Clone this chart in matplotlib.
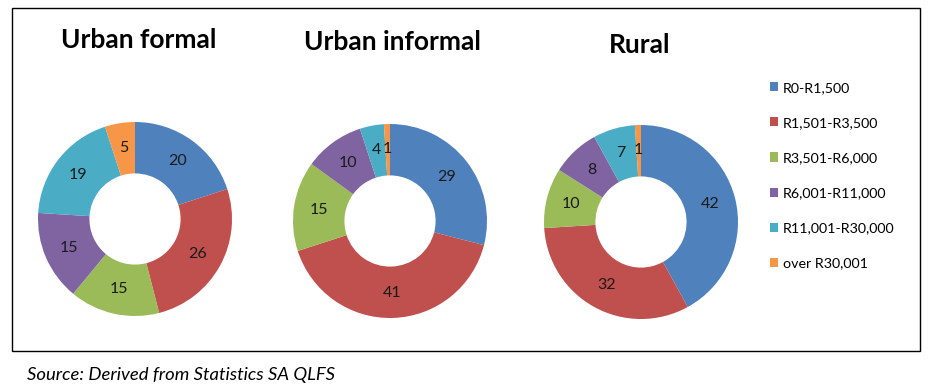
import matplotlib
matplotlib.use('Agg')
import matplotlib.pyplot as plt
from matplotlib.patches import Patch, Rectangle

plt.rcParams['font.family'] = ['Lato', 'DejaVu Sans']

# income bands (legend order) and shares in percent
categories = ['R0-R1,500', 'R1,501-R3,500', 'R3,501-R6,000',
              'R6,001-R11,000', 'R11,001-R30,000', 'over R30,001']
colors = ['#4F81BD', '#C0504D', '#9BBB59', '#8064A2', '#4BACC6', '#F79646']

titles = ['Urban formal', 'Urban informal', 'Rural']
urban_formal = [20, 26, 15, 15, 19, 5]
urban_informal = [29, 41, 15, 10, 4, 1]
rural = [42, 32, 10, 8, 7, 1]
series = [urban_formal, urban_informal, rural]

W, H = 931, 391
fig = plt.figure(figsize=(W / 100, H / 100), dpi=100)

# outer frame
fig.patches.append(Rectangle((12 / W, 1 - 351 / H), 908 / W, 343 / H,
                             transform=fig.transFigure, fill=False,
                             edgecolor='black', linewidth=1))

# donut centres (px) and title positions
centres = [(135, 219), (390, 221), (641, 222)]
title_pos = [(139, 40), (392, 42), (640, 45)]
r = 97

for vals, title, (cx, cy), (tx, ty) in zip(series, titles, centres, title_pos):
    ax = fig.add_axes([(cx - r) / W, (H - cy - r) / H, 2 * r / W, 2 * r / H])
    wedges, texts = ax.pie(vals, labels=[str(v) for v in vals], colors=colors,
                           startangle=90, counterclock=False, radius=1,
                           labeldistance=0.74,
                           wedgeprops=dict(width=0.53, linewidth=0),
                           textprops=dict(fontsize=11.5, color='#1a1a1a',
                                          ha='center', va='center'))
    ax.set_xlim(-1, 1)
    ax.set_ylim(-1, 1)
    ax.set_aspect('equal')
    ax.axis('off')
    fig.text(tx / W, 1 - ty / H, title, fontsize=19, fontweight='bold',
             ha='center', va='center')

handles = [Patch(facecolor=c, edgecolor='none') for c in colors]
fig.legend(handles, categories, loc='upper left',
           bbox_to_anchor=(764 / W, 1 - 76 / H), frameon=False,
           fontsize=10.3, handlelength=0.6, handleheight=0.6,
           handletextpad=0.3, labelspacing=1.62, borderaxespad=0)

fig.text(27 / W, 1 - 375 / H, 'Source: Derived from Statistics SA QLFS',
         fontsize=13.3, style='italic', ha='left', va='center')

fig.savefig('out.png', dpi=100)
